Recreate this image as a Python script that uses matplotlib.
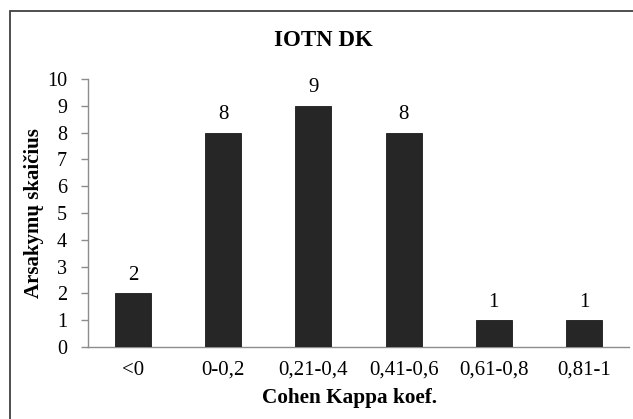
import matplotlib
matplotlib.use("Agg")
import matplotlib.pyplot as plt
from matplotlib.patches import Rectangle

categories = ["<0", "0-0,2", "0,21-0,4", "0,41-0,6", "0,61-0,8", "0,81-1"]
values = [2, 8, 9, 8, 1, 1]
yticks = list(range(0, 11))

title = "IOTN DK"
xlabel = "Cohen Kappa koef."
ylabel = "Arsakymų skaičius"

plt.rcParams['font.family'] = ['Liberation Serif', 'DejaVu Serif']

W, H = 633, 419
fig = plt.figure(figsize=(W / 100, H / 100), dpi=100)
fig.patch.set_facecolor("white")

# outer chart border
fig.patches.append(Rectangle((10 / W, -0.1), 1.2, 1 - 11 / H + 0.1,
                             transform=fig.transFigure, fill=False,
                             edgecolor="#404040", linewidth=1.3))

ax = fig.add_axes([88 / W, 1 - 347 / H, (629 - 88) / W, (347 - 79) / H])
x = range(len(categories))
bars = ax.bar(x, values, width=0.4, color="#262626", edgecolor="#1a1a1a", linewidth=0.6, zorder=3)

ax.set_xlim(-0.5, len(categories) - 0.5)
ax.set_ylim(0, 10)
ax.set_yticks(yticks)
ax.set_yticklabels([str(t) for t in yticks], fontsize=14.5)
ax.set_xticks(list(x))
ax.set_xticklabels(categories, fontsize=15)

for s in ["top", "right"]:
    ax.spines[s].set_visible(False)
for s in ["left", "bottom"]:
    ax.spines[s].set_color("#8c8c8c")
    ax.spines[s].set_linewidth(1.0)

ax.tick_params(axis="y", length=5, width=1.0, color="#8c8c8c", pad=10, direction="out")
ax.tick_params(axis="x", length=0, pad=10)

for xi, v in zip(x, values):
    ax.annotate(str(v), (xi, v), xytext=(0, 6), textcoords="offset points",
                ha="center", va="bottom", fontsize=15)

fig.text(323 / W, 1 - 40 / H, title, ha="center", va="center", fontsize=16.5, fontweight="bold")
fig.text(350 / W, 1 - 398 / H, xlabel, ha="center", va="center", fontsize=15.3, fontweight="bold")
fig.text(34 / W, 1 - 213 / H, ylabel, ha="center", va="center", rotation=90, fontsize=15, fontweight="bold")

fig.savefig("out.png", dpi=100)
